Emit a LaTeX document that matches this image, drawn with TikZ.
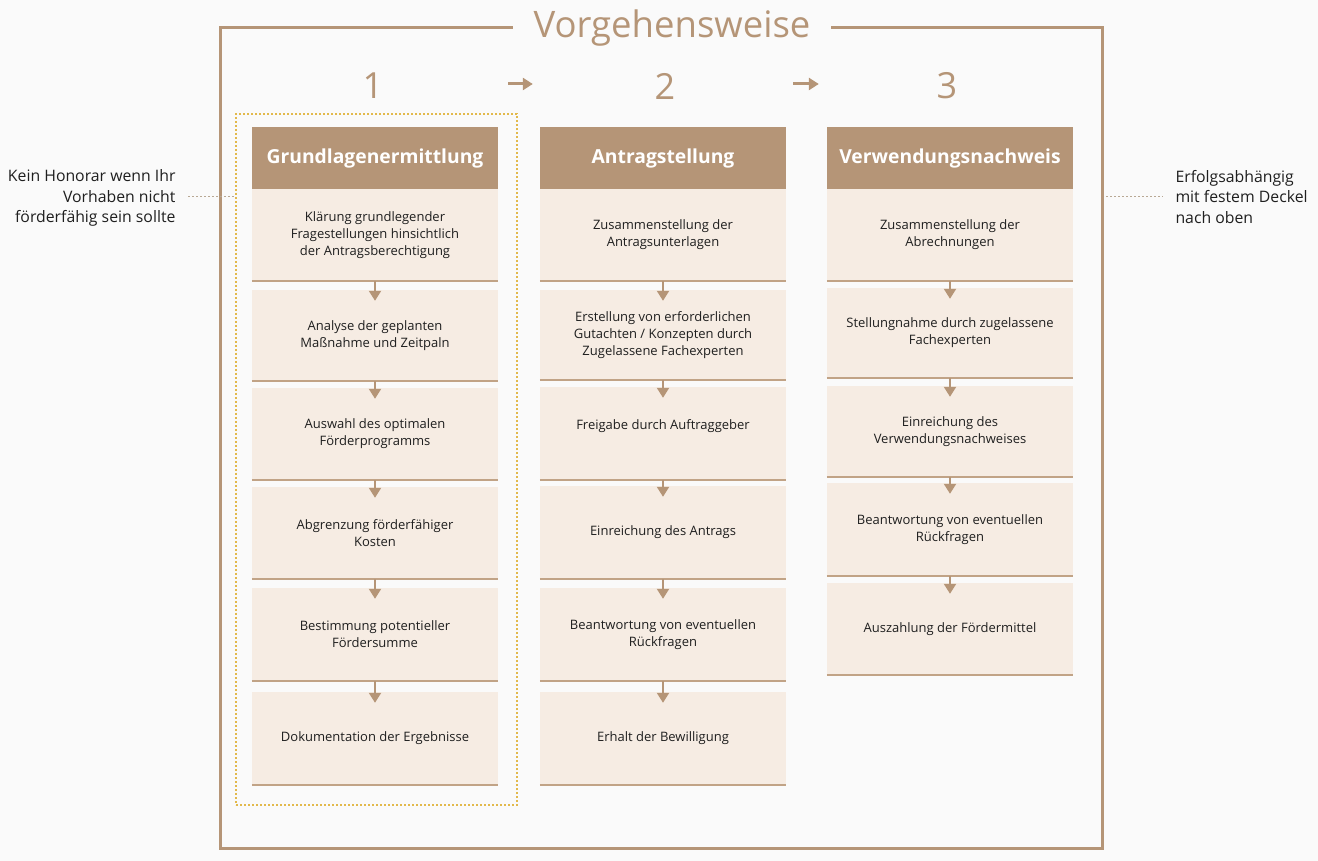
\documentclass[tikz,border=0pt]{standalone}
\usepackage{fontspec}
\setmainfont{Open Sans}
\usetikzlibrary{arrows.meta,    % Pfeilspitzen
                positioning,
                calc}
\definecolor{bg}{HTML}{FAFAFA}
\definecolor{braun}{HTML}{B59577}
\definecolor{hell}{HTML}{F6ECE3}
\definecolor{linie}{HTML}{C1A386}
\definecolor{gelb}{HTML}{E2B94C}
\definecolor{schrift}{HTML}{1F1F1F}
\definecolor{punktlinie}{HTML}{B8A894}
\tikzset{
  kopf/.style={fill=braun, text=white, font=\fontsize{19.3}{23}\selectfont\bfseries,
               minimum width=246pt, minimum height=62pt, inner sep=0pt},
  schritt/.style={fill=hell, text=schrift, font=\fontsize{13}{17}\selectfont,
               minimum width=246pt, align=center, inner sep=0pt},
  nummer/.style={text=braun, font=\fontsize{36}{40}\selectfont},
  pfeil/.style={draw=braun, line width=2pt, -{Triangle[width=12pt,length=10pt]}},
  seite/.style={text=schrift, font=\fontsize{15.8}{20.5}\selectfont},
  punkt/.style={draw=punktlinie, line width=1pt, dash pattern=on 2pt off 2pt}
}
\begin{document}
\begin{tikzpicture}[x=1pt,y=-1pt]
\fill[bg](0,0)rectangle(1318,861);
\useasboundingbox(0,0)rectangle(1318,861);
% Rahmen mit Titel
\draw[braun, line width=3pt](220,28)rectangle(1102,848);
\node[text=braun, fill=bg, font=\fontsize{36.5}{42}\selectfont, inner xsep=21pt](titel)at(672,28){Vorgehensweise};
% Auswahl Phase 1
\node[draw=gelb, line width=1.2pt, dash pattern=on 2pt off 2pt, minimum width=281pt, minimum height=691pt](auswahl)at(376.5,459.5){};
% Nummern
\node[nummer](n1)at(373,86){1};
\node[nummer](n2)at(665,86){2};
\node[nummer](n3)at(947,86){3};
% Kopfzeilen
\node[kopf](h1)at(375,158){Grundlagenermittlung};
\node[kopf](h2)at(663,158){Antragstellung};
\node[kopf](h3)at(950,158){Verwendungsnachweis};
\draw[pfeil, line width=3pt]([xshift=10pt]h1.east|-0,84)--([xshift=-7pt]h2.west|-0,84);
\draw[pfeil, line width=3pt]([xshift=7pt]h2.east|-0,84)--([xshift=-8pt]h3.west|-0,84);
% Spalte 1
\node[schritt, minimum height=92pt](g1)at(375,235){Klärung grundlegender\\Fragestellungen hinsichtlich\\der Antragsberechtigung};
\node[schritt, minimum height=91pt](g2)at(375,335.5){Analyse der geplanten\\Maßnahme und Zeitpaln};
\node[schritt, minimum height=92pt](g3)at(375,434){Auswahl des optimalen\\Förderprogramms};
\node[schritt, minimum height=92pt](g4)at(375,533){Abgrenzung förderfähiger\\Kosten};
\node[schritt, minimum height=93pt](g5)at(375,634.5){Bestimmung potentieller\\Fördersumme};
\node[schritt, minimum height=93pt](g6)at(375,738.5){Dokumentation der Ergebnisse};
% Spalte 2
\node[schritt, minimum height=92pt](a1)at(663,235){Zusammenstellung der\\Antragsunterlagen};
\node[schritt, minimum height=90pt](a2)at(663,335){Erstellung von erforderlichen\\Gutachten / Konzepten durch\\Zugelassene Fachexperten};
\node[schritt, minimum height=93pt](a3)at(663,433.5){Freigabe durch Auftraggeber\\\mbox{}};
\node[schritt, minimum height=93pt](a4)at(663,532.5){Einreichung des Antrags};
\node[schritt, minimum height=93pt](a5)at(663,634.5){Beantwortung von eventuellen\\Rückfragen};
\node[schritt, minimum height=93pt](a6)at(663,738.5){Erhalt der Bewilligung};
% Spalte 3
\node[schritt, minimum height=92pt](v1)at(950,235){Zusammenstellung der\\Abrechnungen};
\node[schritt, minimum height=90pt](v2)at(950,333){Stellungnahme durch zugelassene\\Fachexperten};
\node[schritt, minimum height=91pt](v3)at(950,431.5){Einreichung des\\Verwendungsnachweises};
\node[schritt, minimum height=93pt](v4)at(950,529.5){Beantwortung von eventuellen\\Rückfragen};
\node[schritt, minimum height=92pt](v5)at(950,629){Auszahlung der Fördermittel};
% Unterkanten
\foreach \b in {g1,g2,g3,g4,g5,g6,a1,a2,a3,a4,a5,a6,v1,v2,v3,v4,v5}
  \draw[linie, line width=2pt](\b.south west)--(\b.south east);
% Pfeile
\foreach \s/\z in {g1/g2,g2/g3,g3/g4,g4/g5,g5/g6,a1/a2,a2/a3,a3/a4,a4/a5,a5/a6,v1/v2,v2/v3,v3/v4,v4/v5}
  \draw[pfeil](\s.south)--([yshift=-11pt]\z.north);
% Seitentexte
\node[seite, align=right, anchor=east](links)at(179,198){Kein Honorar wenn Ihr\\Vorhaben nicht\\förderfähig sein sollte};
\node[seite, align=left, anchor=west](rechts)at(1172,197){Erfolgsabhängig\\mit festem Deckel\\nach oben};
\coordinate(re)at(1106,197);
\draw[punkt]([xshift=9pt]links.east|-0,197)--(auswahl.west|-0,197);
\draw[punkt](re)--([xshift=-9pt]rechts.west);
\end{tikzpicture}
\end{document}
